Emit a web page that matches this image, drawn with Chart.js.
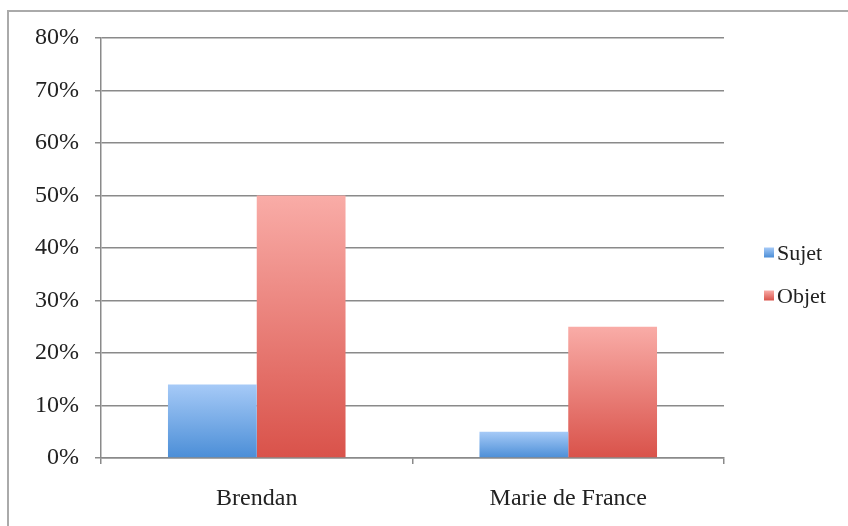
<!DOCTYPE html>
<html>
<head>
<meta charset="utf-8">
<script src="https://cdn.jsdelivr.net/npm/chart.js@4/dist/chart.umd.min.js"></script>
<style>
  html, body { margin: 0; padding: 0; background: #fff; }
  #wrap { width: 848px; height: 526px; position: relative; }
</style>
</head>
<body>
<div id="wrap"><canvas id="c" width="848" height="526"></canvas></div>
<script>
// Categories and series (percent values)
const categories = ['Brendan', 'Marie de France'];
const sujet = [14, 5];
const objet = [50, 25];
const seriesNames = ['Sujet', 'Objet'];
const yTicks = [0, 10, 20, 30, 40, 50, 60, 70, 80];

const FONT = '"Liberation Serif", "Times New Roman", serif';
const TEXT = '#222';
const GRID = '#8a8a8a';

// Vertical gradient per bar: light at the top, deeper at the base
const palettes = [
  { top: '#a6caf7', bottom: '#4b8ed7' },
  { top: '#f9aca7', bottom: '#d9524a' }
];

function barGradient(ctx, pal) {
  const chart = ctx.chart;
  const y = chart.scales && chart.scales.y;
  if (!y || ctx.raw === undefined) return pal.bottom;
  const top = y.getPixelForValue(ctx.raw);
  const base = y.getPixelForValue(0);
  if (!isFinite(top) || !isFinite(base) || top === base) return pal.bottom;
  const g = chart.ctx.createLinearGradient(0, top, 0, base);
  g.addColorStop(0, pal.top);
  g.addColorStop(1, pal.bottom);
  return g;
}

// Frame lines along the top and left, plus the side legend
const decorations = {
  id: 'decorations',
  beforeDraw(chart) {
    const c = chart.ctx;
    c.save();
    c.fillStyle = '#fff';
    c.fillRect(0, 0, chart.width, chart.height);
    c.strokeStyle = '#aaaaaa';
    c.lineWidth = 2;
    c.beginPath();
    c.moveTo(8, chart.height);
    c.lineTo(8, 11);
    c.lineTo(chart.width, 11);
    c.stroke();
    c.restore();
  },
  afterDraw(chart) {
    const c = chart.ctx;
    const area = chart.chartArea;
    const x0 = area.right + 40;
    const yMid = (area.top + area.bottom) / 2;
    const gap = 43;
    c.save();
    c.font = '22px ' + FONT;
    c.textBaseline = 'middle';
    c.textAlign = 'left';
    chart.data.datasets.forEach((ds, i) => {
      const cy = yMid + (i - 0.5) * gap + 28;
      const pal = palettes[i];
      const g = c.createLinearGradient(0, cy - 7, 0, cy + 3);
      g.addColorStop(0, pal.top);
      g.addColorStop(1, pal.bottom);
      c.fillStyle = g;
      c.fillRect(x0, cy - 7, 10, 10);
      c.fillStyle = TEXT;
      c.fillText(ds.label, x0 + 13, cy);
    });
    c.restore();
  }
};

new Chart(document.getElementById('c'), {
  type: 'bar',
  data: {
    labels: categories,
    datasets: [
      { label: seriesNames[0], data: sujet,
        backgroundColor: (ctx) => barGradient(ctx, palettes[0]) },
      { label: seriesNames[1], data: objet,
        backgroundColor: (ctx) => barGradient(ctx, palettes[1]) }
    ]
  },
  options: {
    responsive: false,
    animation: false,
    devicePixelRatio: 1,
    categoryPercentage: 0.57,
    barPercentage: 1.0,
    layout: { padding: { top: 38, right: 124, bottom: 0, left: 0 } },
    plugins: {
      legend: { display: false },
      tooltip: { enabled: false }
    },
    scales: {
      x: {
        grid: {
          offset: true,
          drawOnChartArea: false,
          drawTicks: true,
          tickLength: 6,
          color: GRID,
          lineWidth: 1.5
        },
        border: { display: true, color: GRID, width: 1.5 },
        ticks: {
          color: TEXT,
          font: { family: FONT, size: 24 },
          padding: 20,
          maxRotation: 0
        },
        afterFit(scale) { scale.height = 68; }
      },
      y: {
        min: 0,
        max: 80,
        afterBuildTicks(scale) {
          scale.ticks = yTicks.map(v => ({ value: v }));
        },
        grid: {
          color: GRID,
          lineWidth: 1.5,
          drawTicks: true,
          tickLength: 6
        },
        border: { display: true, color: GRID, width: 1.5 },
        ticks: {
          color: TEXT,
          font: { family: FONT, size: 24 },
          padding: 16,
          callback: (v) => v + '%'
        },
        afterFit(scale) { scale.width = 101; }
      }
    }
  },
  plugins: [decorations]
});
</script>
</body>
</html>
